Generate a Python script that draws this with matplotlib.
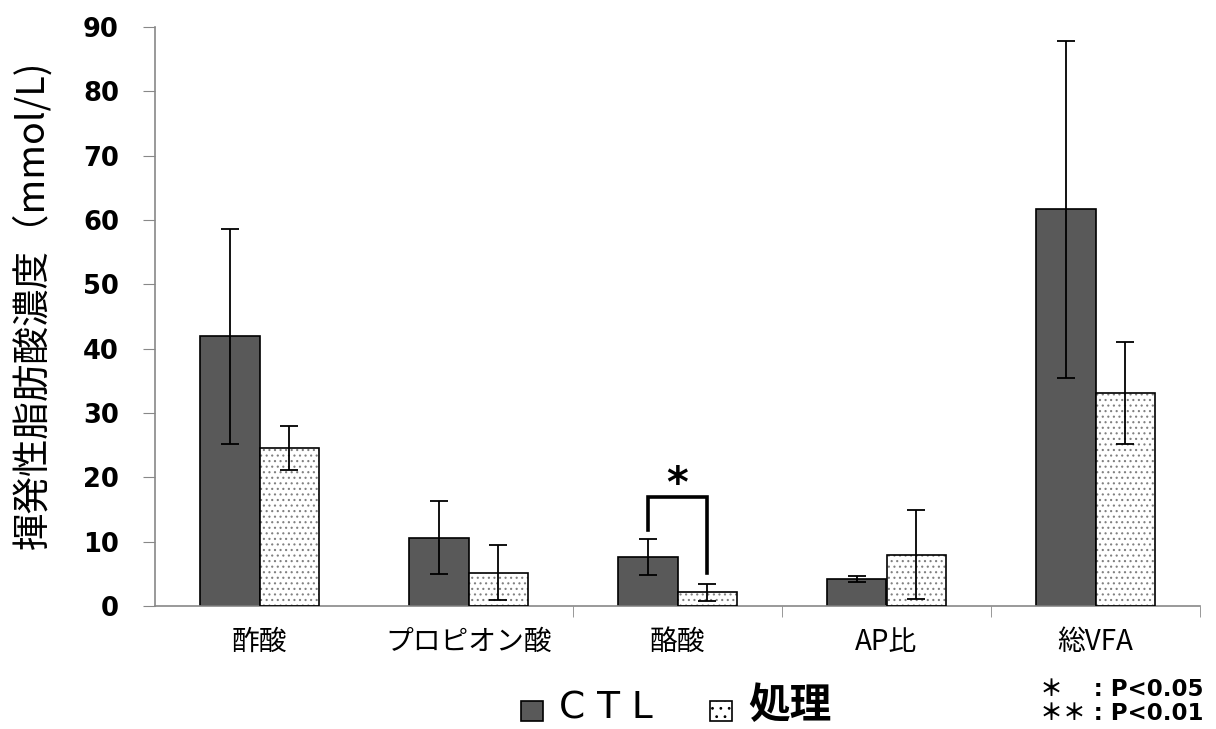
import matplotlib
matplotlib.use("Agg")
import matplotlib.pyplot as plt
from matplotlib.patches import Patch
import numpy as np

plt.rcParams['font.family'] = ['Noto Sans CJK JP', 'DejaVu Sans']
plt.rcParams['hatch.linewidth'] = 0.8

# data
categories = ["酢酸", "プロピオン酸", "酪酸", "AP比", "総VFA"]
ctl_mean = [41.9, 10.6, 7.6, 4.2, 61.7]
ctl_err = [16.7, 5.7, 2.8, 0.4, 26.2]
trt_mean = [24.6, 5.2, 2.1, 8.0, 33.1]
trt_err = [3.4, 4.3, 1.3, 6.9, 7.9]
series_labels = ["C T L", "処理"]
yticks = [0, 10, 20, 30, 40, 50, 60, 70, 80, 90]

# significance bracket on 酪酸 (index 2)
sig_idx = 2
sig_top = 16.9
sig_left_bottom = 11.8
sig_right_bottom = 5.1

fig = plt.figure(figsize=(12.16, 7.29), dpi=100)
ax = fig.add_axes([155/1216, 1-606/729, 1045/1216, 579/729])

x = np.arange(len(categories))
w = 0.283
ctl_x = x - w/2
trt_x = x + w/2

ax.bar(ctl_x, ctl_mean, w, color="#595959", edgecolor="black", linewidth=1.2, zorder=2)
# hatch with gray dots, then black outline on top
ax.bar(trt_x, trt_mean, w, color="white", edgecolor="#808080", linewidth=0, hatch="...", zorder=2)
ax.bar(trt_x, trt_mean, w, color="none", edgecolor="black", linewidth=1.2, zorder=3)

ax.errorbar(ctl_x, ctl_mean, yerr=ctl_err, fmt="none", ecolor="black",
            elinewidth=1.3, capsize=6.8, capthick=1.3, zorder=4)
ax.errorbar(trt_x, trt_mean, yerr=trt_err, fmt="none", ecolor="black",
            elinewidth=1.3, capsize=6.8, capthick=1.3, zorder=4)

# bracket and asterisk
bx0 = ctl_x[sig_idx]
bx1 = trt_x[sig_idx]
ax.plot([bx0, bx0, bx1, bx1], [sig_left_bottom, sig_top, sig_top, sig_right_bottom],
        color="black", linewidth=2.6, solid_joinstyle="miter", zorder=5)
ax.text(x[sig_idx], sig_top - 1.4, "*", ha="center", va="bottom",
        fontsize=30, fontweight="bold", family="DejaVu Sans")

ax.set_xlim(-0.5, len(categories) - 0.5)
ax.set_ylim(0, 90)
ax.set_yticks(yticks)
ax.set_yticklabels([str(v) for v in yticks], fontsize=18.5, fontweight="bold",
                   family="DejaVu Sans")
ax.set_xticks(x)
ax.set_xticklabels(categories, fontsize=20)
ax.set_xticks(x[1:] + 0.5, minor=True)
ax.tick_params(axis="x", which="major", length=0, pad=15)
ax.tick_params(axis="x", which="minor", length=8, color="#888888", direction="out")
ax.tick_params(axis="y", length=9, color="#888888", pad=17)

for s in ["top", "right"]:
    ax.spines[s].set_visible(False)
for s in ["left", "bottom"]:
    ax.spines[s].set_color("#888888")
    ax.spines[s].set_linewidth(1.2)

ax.set_ylabel("揮発性脂肪酸濃度（mmol/L)", fontsize=27, va="center")
ax.yaxis.set_label_coords(-0.117, 0.52)

# legend
handles = [Patch(facecolor="#595959", edgecolor="black", linewidth=1.2),
           Patch(facecolor="white", edgecolor="black", linewidth=1.2, hatch="..")]
leg = fig.legend(handles, series_labels, loc="center", bbox_to_anchor=(0.556, 0.031),
                 ncol=2, frameon=False, fontsize=16, handlelength=1.0, handleheight=1.0,
                 handletextpad=0.7, columnspacing=2.6)
leg.get_texts()[0].set_fontsize(27)
leg.get_texts()[0].set_family("DejaVu Sans")
leg.get_texts()[1].set_fontsize(30)
leg.get_texts()[1].set_fontweight("bold")

note_family = ["DejaVu Sans", "Noto Sans CJK JP"]
fig.text(0.990, 1-690/729, "＊　 : P<0.05", ha="right", va="center", fontsize=16.5,
         fontweight="bold", family=note_family)
fig.text(0.990, 1-713/729, "＊＊ : P<0.01", ha="right", va="center", fontsize=16.5,
         fontweight="bold", family=note_family)

fig.savefig("out.png", dpi=100)
